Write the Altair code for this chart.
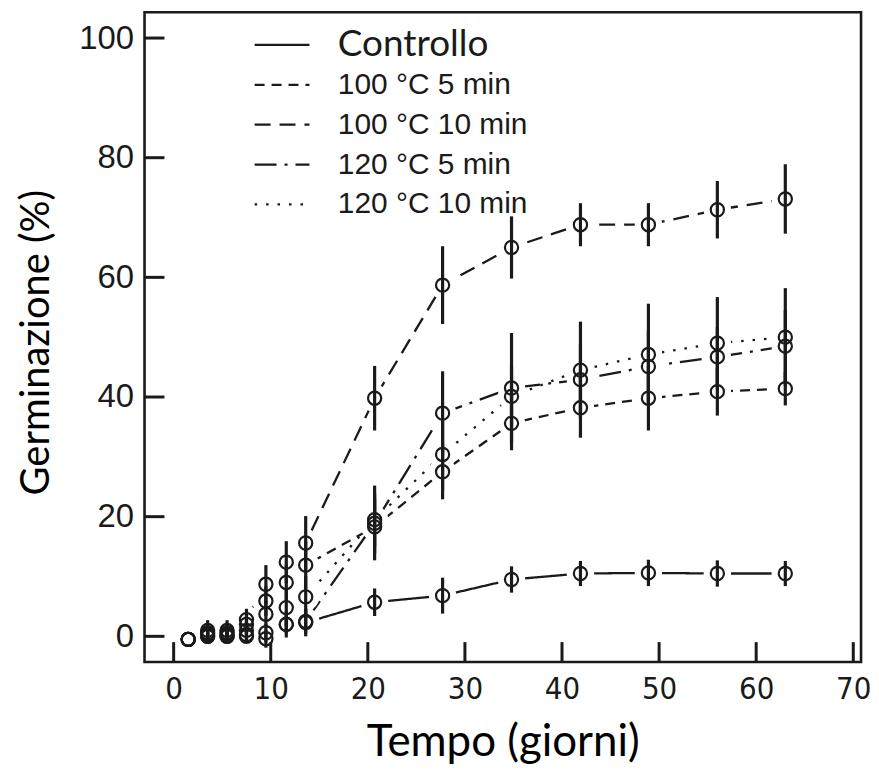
import altair as alt
import pandas as pd

# ---- data ----
days = [1.5, 3.5, 5.5, 7.5, 9.5, 11.6, 13.6, 20.7, 27.7, 34.8, 41.9, 48.9, 56.0, 63.0]

series_names = ["Controllo", "100 °C 5 min", "100 °C 10 min", "120 °C 5 min", "120 °C 10 min"]

controllo     = [-0.5, 0.0, 0.0, 0.0, -0.4, 2.0, 2.3, 5.7, 6.8, 9.5, 10.5, 10.6, 10.5, 10.5]
controllo_err = [0.0, 0.8, 0.8, 1.0, 1.5, 2.2, 2.3, 2.3, 3.0, 2.2, 2.1, 2.2, 2.2, 2.1]

t100_5     = [-0.5, 0.6, 0.6, 2.0, 5.9, 9.0, 11.9, 18.3, 27.5, 35.6, 38.2, 39.8, 40.9, 41.4]
t100_5_err = [0.0, 1.0, 1.0, 1.5, 2.5, 3.0, 4.0, 5.6, 4.6, 4.5, 5.0, 5.4, 4.0, 2.8]

t100_10     = [-0.5, 1.0, 1.0, 2.8, 8.7, 12.4, 15.6, 39.8, 58.7, 65.0, 68.8, 68.8, 71.3, 73.1]
t100_10_err = [0.0, 1.7, 1.7, 1.8, 3.2, 3.5, 4.5, 5.4, 6.5, 5.2, 3.6, 3.6, 4.8, 5.8]

t120_5     = [-0.5, 0.0, 0.0, 0.3, 0.6, 2.0, 2.5, 18.9, 37.3, 41.5, 42.9, 45.1, 46.7, 48.5]
t120_5_err = [0.0, 0.8, 0.8, 1.0, 1.5, 1.5, 2.0, 4.0, 7.0, 9.2, 6.0, 6.0, 5.0, 6.0]

t120_10     = [-0.5, 0.3, 0.3, 1.0, 3.7, 4.8, 6.6, 19.5, 30.4, 40.1, 44.5, 47.1, 49.0, 50.0]
t120_10_err = [0.0, 1.2, 1.2, 1.5, 2.2, 3.0, 3.5, 5.7, 6.0, 5.0, 8.1, 8.5, 7.7, 8.2]

x_ticks = [0, 10, 20, 30, 40, 50, 60, 70]
y_ticks = [0, 20, 40, 60, 80, 100]

# ---- build table ----
vals = [controllo, t100_5, t100_10, t120_5, t120_10]
errs = [controllo_err, t100_5_err, t100_10_err, t120_5_err, t120_10_err]
rows = []
for name, v, e in zip(series_names, vals, errs):
    for d, yv, ev in zip(days, v, e):
        rows.append({"series": name, "day": d, "value": yv, "lo": yv - ev, "hi": yv + ev})
df = pd.DataFrame(rows)
xt = pd.DataFrame({"v": x_ticks})
yt = pd.DataFrame({"v": y_ticks})

dashes = [[1, 0], [10, 7], [16, 9], [22, 8, 3, 8], [2.5, 9]]

W, H = 719, 652
INK = "#1a1a1a"
xs = alt.Scale(domain=[-3, 70.8], nice=False, zero=False)
ys = alt.Scale(domain=[-4.3, 104.3], nice=False, zero=False)

x_axis = alt.Axis(values=x_ticks, grid=False, domain=False, ticks=False, tickSize=0,
                  labelFont="Liberation Sans Narrow, DejaVu Sans Condensed, Liberation Sans",
                  labelFontSize=31, labelColor=INK, labelPadding=13, labelFlush=False,
                  labelOverlap=False,
                  title="Tempo (giorni)", titleFont="Lato", titleFontSize=44,
                  titleFontWeight="normal", titleColor="black", titleY=81,
                  titleBaseline="middle")
y_axis = alt.Axis(values=y_ticks, grid=False, domain=False, ticks=False, tickSize=0,
                  labelFont="Liberation Sans", labelFontSize=33, labelColor=INK,
                  labelPadding=11, labelOverlap=False,
                  title="Germinazione (%)", titleFont="Lato", titleFontSize=40,
                  titleFontWeight="normal", titleColor="black", titleAngle=270,
                  titleX=-108, titleY=331, titleAlign="center", titleBaseline="middle")

X = alt.X("day:Q", scale=xs, axis=x_axis, title="Tempo (giorni)")
Y = alt.Y("value:Q", scale=ys, axis=y_axis, title="Germinazione (%)")

legend = alt.Legend(title=None, orient="none", legendX=109, legendY=13,
                    symbolType="stroke", symbolSize=3025, symbolStrokeWidth=2.2,
                    symbolStrokeColor=INK, labelColor=INK,
                    labelFontSize={"expr": "datum.label == 'Controllo' ? 37 : 30"},
                    labelFont={"expr": "datum.label == 'Controllo' ? 'Lato' : 'Liberation Sans'"},
                    labelOffset=27, clipHeight=39.5,
                    rowPadding=0, padding=0, symbolOffset=0, labelLimit=400)

lines = alt.Chart(df).mark_line(strokeWidth=2.3, color=INK).encode(
    x=X, y=Y,
    strokeDash=alt.StrokeDash("series:N", scale=alt.Scale(domain=series_names, range=dashes),
                              legend=legend),
    detail="series:N",
)

halos = alt.Chart(df).mark_point(shape="circle", filled=True, fill="white", opacity=1,
                                 strokeWidth=0, size=760).encode(x=X, y=Y)

bars = alt.Chart(df).mark_rule(strokeWidth=3.2, color=INK).encode(
    x=X, y=alt.Y("lo:Q", scale=ys, title="Germinazione (%)"), y2="hi:Q")

pts = alt.Chart(df).mark_point(shape="circle", filled=False, stroke=INK, strokeWidth=2.2,
                               size=175, opacity=1).encode(x=X, y=Y)

yticks = alt.Chart(yt).mark_rule(strokeWidth=3, color=INK).encode(
    y=alt.Y("v:Q", scale=ys, title="Germinazione (%)"), x=alt.value(0), x2=alt.value(20))
xticks = alt.Chart(xt).mark_rule(strokeWidth=3, color=INK).encode(
    x=alt.X("v:Q", scale=xs, title="Tempo (giorni)"), y=alt.value(H), y2=alt.value(H - 20))

chart = alt.layer(lines, halos, bars, pts, yticks, xticks).properties(
    width=W, height=H,
    background="white",
    autosize=alt.AutoSizeParams(type="none"),
    padding={"left": 137, "top": 3, "right": 10, "bottom": 110},
).configure_view(stroke=INK, strokeWidth=2.6)

chart.save("out.html", embed_options={"renderer": "svg", "actions": False})
